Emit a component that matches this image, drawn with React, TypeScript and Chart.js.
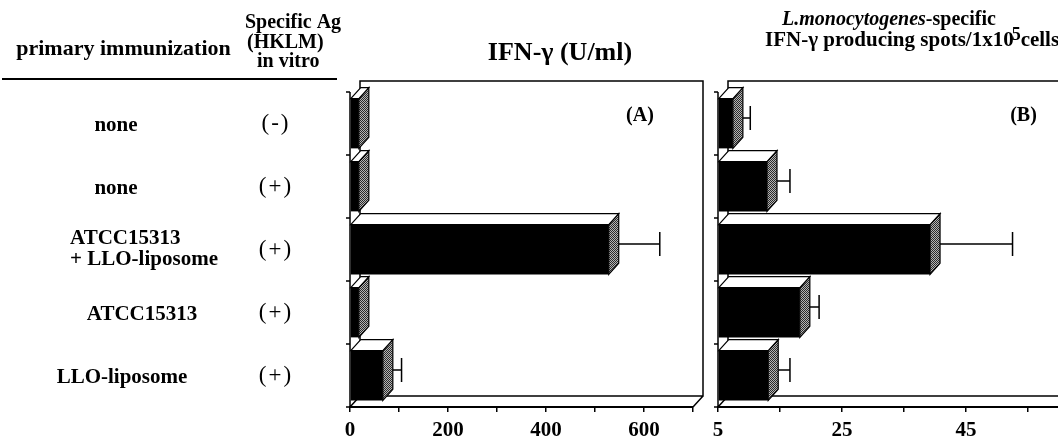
import { useEffect, useRef } from 'react';
import { Chart, registerables } from 'chart.js';

Chart.register(...registerables);

// ---------- data ----------
const immunizations = ['none', 'none', 'ATCC15313\n+ LLO-liposome', 'ATCC15313', 'LLO-liposome'];
const antigenInVitro = ['(-)', '(+)', '(+)', '(+)', '(+)'];
const ifnValues = [18, 18, 528, 18, 67];
const ifnErrors = [0, 0, 94, 0, 28];
const spotValues = [7.4, 12.9, 39.2, 18.2, 13.1];
const spotErrors = [2.0, 2.9, 12.5, 2.3, 2.7];
const ifnTicks = [0, 100, 200, 300, 400, 500, 600, 700];
const ifnTickLabels = ['0', '200', '400', '600'];
const spotTicks = [5, 15, 25, 35, 45, 55];
const spotTickLabels = ['5', '25', '45'];
const ifnRange = [0, 700];
const spotRange = [5, 60];

// ---------- layout / style ----------
const DX = 10;
const DY = 11;
const SERIF = '"Liberation Serif", "Times New Roman", serif';
const LABEL_X = [116, 116, 144, 142, 122];
const AG_X = 275;

function makePattern(): CanvasPattern | string {
  const c = document.createElement('canvas');
  c.width = 2;
  c.height = 2;
  const g = c.getContext('2d');
  if (!g) return '#777';
  g.fillStyle = '#b4b4b4';
  g.fillRect(0, 0, 2, 2);
  g.fillStyle = '#2a2a2a';
  g.fillRect(0, 0, 1, 1);
  g.fillRect(1, 1, 1, 1);
  const p = g.createPattern(c, 'repeat');
  return p || '#777';
}

function bar3DPlugin(errors: number[], texts: (chart: any) => void) {
  return {
    id: 'bar3d',
    beforeDatasetsDraw(chart: any) {
      const { ctx, chartArea: a } = chart;
      const yScale = chart.scales.y;
      const n = chart.data.labels.length;
      ctx.save();
      ctx.strokeStyle = '#000';
      ctx.lineWidth = 1.5;
      ctx.beginPath();
      ctx.moveTo(a.left + DX, a.bottom - DY);
      ctx.lineTo(a.left + DX, a.top - DY);
      ctx.lineTo(a.right + DX, a.top - DY);
      ctx.lineTo(a.right + DX, a.bottom - DY);
      ctx.lineTo(a.left + DX, a.bottom - DY);
      ctx.moveTo(a.left, a.bottom);
      ctx.lineTo(a.left + DX, a.bottom - DY);
      ctx.moveTo(a.right, a.bottom);
      ctx.lineTo(a.right + DX, a.bottom - DY);
      ctx.moveTo(a.left, a.top);
      ctx.lineTo(a.left, a.bottom);
      ctx.stroke();
      const centers: number[] = [];
      for (let i = 0; i < n; i++) centers.push(yScale.getPixelForValue(i));
      const bounds: number[] = [a.top];
      for (let i = 1; i < n; i++) bounds.push((centers[i - 1] + centers[i]) / 2);
      bounds.push(a.bottom);
      ctx.beginPath();
      bounds.forEach((b) => {
        ctx.moveTo(a.left - 4, b);
        ctx.lineTo(a.left, b);
      });
      ctx.stroke();
      ctx.restore();
    },
    afterDatasetsDraw(chart: any) {
      const { ctx } = chart;
      const xs = chart.scales.x;
      const values = chart.data.datasets[0].data as number[];
      const meta = chart.getDatasetMeta(0);
      const pattern = makePattern();
      ctx.save();
      ctx.strokeStyle = '#000';
      meta.data.forEach((bar: any, i: number) => {
        const { x, y, base, height } = bar.getProps(['x', 'y', 'base', 'height'], true);
        const top = y - height / 2;
        const bottom = y + height / 2;
        const left = Math.max(base, chart.chartArea.left);
        const right = x;
        if (errors[i] > 0) {
          const ex = xs.getPixelForValue(values[i] + errors[i]) + DX / 2;
          const ey = y - DY / 2;
          ctx.lineWidth = 1.5;
          ctx.beginPath();
          ctx.moveTo(right + DX / 2, ey);
          ctx.lineTo(ex, ey);
          ctx.moveTo(ex, ey - 12);
          ctx.lineTo(ex, ey + 12);
          ctx.stroke();
        }
        ctx.lineWidth = 1.2;
        ctx.beginPath();
        ctx.moveTo(right, top);
        ctx.lineTo(right + DX, top - DY);
        ctx.lineTo(right + DX, bottom - DY);
        ctx.lineTo(right, bottom);
        ctx.closePath();
        ctx.fillStyle = pattern;
        ctx.fill();
        ctx.stroke();
        ctx.beginPath();
        ctx.moveTo(left, top);
        ctx.lineTo(left + DX, top - DY);
        ctx.lineTo(right + DX, top - DY);
        ctx.lineTo(right, top);
        ctx.closePath();
        ctx.fillStyle = '#fff';
        ctx.fill();
        ctx.stroke();
      });
      ctx.restore();
    },
    afterDraw(chart: any) {
      texts(chart);
    },
  };
}

function drawTextsA(chart: any) {
  const { ctx } = chart;
  const yScale = chart.scales.y;
  ctx.save();
  ctx.fillStyle = '#000';
  ctx.textBaseline = 'alphabetic';
  ctx.font = `bold 22px ${SERIF}`;
  ctx.textAlign = 'center';
  ctx.fillText('primary immunization', 123.5, 55);
  ctx.font = `bold 20px ${SERIF}`;
  ctx.textAlign = 'left';
  ctx.fillText('Specific Ag', 245, 28);
  ctx.fillText('(HKLM)', 247, 48);
  ctx.fillText('in vitro', 257, 67);
  ctx.strokeStyle = '#000';
  ctx.lineWidth = 2;
  ctx.beginPath();
  ctx.moveTo(2, 79);
  ctx.lineTo(337, 79);
  ctx.stroke();
  ctx.font = `bold 26px ${SERIF}`;
  ctx.textAlign = 'center';
  ctx.fillText('IFN-\u03b3 (U/ml)', 560, 60);
  ctx.font = `bold 20px ${SERIF}`;
  ctx.fillText('(A)', 640, 121);
  immunizations.forEach((lab, i) => {
    const cy = yScale.getPixelForValue(i);
    const lines = lab.split('\n');
    ctx.font = `bold 21px ${SERIF}`;
    if (lines.length === 1) {
      ctx.textAlign = 'center';
      ctx.fillText(lines[0], LABEL_X[i], cy + 7);
    } else {
      const w = Math.max(...lines.map((l) => ctx.measureText(l).width));
      ctx.textAlign = 'left';
      const left = LABEL_X[i] - w / 2;
      lines.forEach((l, k) => {
        ctx.fillText(l, left, cy + 5 + (k - (lines.length - 1) / 2) * 21);
      });
    }
    ctx.font = `23px ${SERIF}`;
    ctx.textAlign = 'center';
    (ctx as any).letterSpacing = '2px';
    ctx.fillText(antigenInVitro[i], AG_X + 1, cy + 6);
    (ctx as any).letterSpacing = '0px';
  });
  ctx.restore();
}

function drawTextsB(chart: any) {
  const { ctx } = chart;
  const off = 700;
  ctx.save();
  ctx.fillStyle = '#000';
  ctx.textBaseline = 'alphabetic';
  ctx.textAlign = 'left';
  let x = 782 - off;
  ctx.font = `italic bold 20px ${SERIF}`;
  ctx.fillText('L.monocytogenes', x, 25);
  x += ctx.measureText('L.monocytogenes').width;
  ctx.font = `bold 20px ${SERIF}`;
  ctx.fillText('-specific', x, 25);
  x = 765 - off;
  const main = 'IFN-\u03b3 producing spots/1x10';
  ctx.font = `bold 21px ${SERIF}`;
  ctx.fillText(main, x, 46);
  x += ctx.measureText(main).width - 2;
  ctx.font = `bold 18px ${SERIF}`;
  ctx.fillText('5', x, 40);
  x += ctx.measureText('5').width;
  ctx.font = `bold 21px ${SERIF}`;
  ctx.fillText('cells', x, 46);
  ctx.font = `bold 20px ${SERIF}`;
  ctx.textAlign = 'center';
  ctx.fillText('(B)', 1023.5 - off, 121);
  ctx.restore();
}

function makeConfig(
  values: number[],
  errors: number[],
  range: number[],
  ticks: number[],
  tickLabels: string[],
  padding: { left: number; right: number },
  texts: (chart: any) => void
): any {
  return {
    type: 'bar',
    data: {
      labels: immunizations,
      datasets: [
        {
          data: values,
          base: range[0],
          backgroundColor: '#000',
          borderWidth: 0,
          barPercentage: 0.79,
          categoryPercentage: 1,
        },
      ],
    },
    options: {
      indexAxis: 'y',
      responsive: false,
      animation: false,
      layout: { padding: { left: padding.left, right: padding.right, top: 92, bottom: 0 } },
      plugins: { legend: { display: false }, tooltip: { enabled: false } },
      scales: {
        y: { type: 'category', display: false },
        x: {
          type: 'linear',
          min: range[0],
          max: range[1],
          afterBuildTicks: (s: any) => {
            s.ticks = ticks.map((v) => ({ value: v }));
          },
          afterFit: (s: any) => {
            s.height = 32;
          },
          ticks: {
            autoSkip: false,
            maxRotation: 0,
            padding: 6,
            color: '#000',
            font: { family: SERIF, size: 21, weight: 'bold' },
            callback: (v: any) => (tickLabels.includes(String(v)) ? String(v) : ''),
          },
          grid: { drawOnChartArea: false, drawTicks: true, tickLength: 5, color: '#000', lineWidth: 1.5 },
          border: { display: true, color: '#000', width: 2 },
        },
      },
    },
    plugins: [bar3DPlugin(errors, texts)],
  };
}

export default function App() {
  const refA = useRef<HTMLCanvasElement>(null);
  const refB = useRef<HTMLCanvasElement>(null);

  useEffect(() => {
    if (!refA.current || !refB.current) return;
    const a = new Chart(
      refA.current,
      makeConfig(ifnValues, ifnErrors, ifnRange, ifnTicks, ifnTickLabels, { left: 350, right: 19 }, drawTextsA)
    );
    const b = new Chart(
      refB.current,
      makeConfig(spotValues, spotErrors, spotRange, spotTicks, spotTickLabels, { left: 18, right: 31 }, drawTextsB)
    );
    return () => {
      a.destroy();
      b.destroy();
    };
  }, []);

  return (
    <div
      style={{
        position: 'absolute',
        left: 0,
        top: 0,
        width: 1058,
        height: 439,
        overflow: 'hidden',
        background: '#fff',
      }}
    >
      <canvas ref={refA} width={712} height={439} style={{ position: 'absolute', left: 0, top: 0, display: 'block' }} />
      <canvas ref={refB} width={390} height={439} style={{ position: 'absolute', left: 700, top: 0, display: 'block' }} />
    </div>
  );
}
